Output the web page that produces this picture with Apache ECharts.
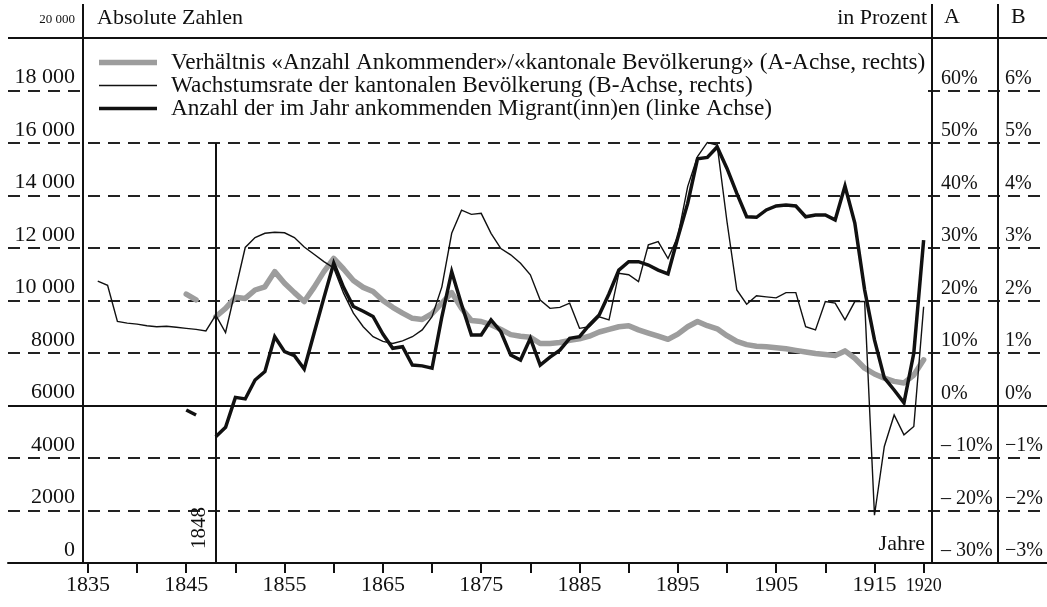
<!DOCTYPE html>
<html>
<head>
<meta charset="utf-8">
<script src="https://cdn.jsdelivr.net/npm/echarts@6/dist/echarts.min.js"></script>
<style>
  html, body { margin: 0; padding: 0; background: #fff; }
  #chart { width: 1047px; height: 607px; }
</style>
</head>
<body>
<div id="chart"></div>
<script>
// ---------------- DATA ----------------
const years = [1835,1836,1837,1838,1839,1840,1841,1842,1843,1844,
  1845,1846,1847,1848,1849,1850,1851,1852,1853,1854,
  1855,1856,1857,1858,1859,1860,1861,1862,1863,1864,
  1865,1866,1867,1868,1869,1870,1871,1872,1873,1874,
  1875,1876,1877,1878,1879,1880,1881,1882,1883,1884,
  1885,1886,1887,1888,1889,1890,1891,1892,1893,1894,
  1895,1896,1897,1898,1899,1900,1901,1902,1903,1904,
  1905,1906,1907,1908,1909,1910,1911,1912,1913,1914,
  1915,1916,1917,1918,1919,1920];

// Anzahl der im Jahr ankommenden Migrant(inn)en (linke Achse)
const migrants = [null,null,null,null,null,null,null,null,null,null,
  5830,5640,null,4810,5170,6310,6250,6970,7290,8620,
  8050,7900,7390,8750,10100,11420,10500,9770,9590,9390,
  8720,8180,8240,7540,7510,7420,9380,11100,9850,8690,
  8690,9260,8810,7920,7730,8560,7540,7840,8110,8560,
  8620,9070,9450,10260,11160,11480,11480,11350,11160,11010,
  12400,13700,15400,15450,15850,15030,14080,13190,13170,13450,
  13600,13640,13600,13190,13260,13260,13070,14360,12950,10400,
  8500,7050,6590,6100,8000,12300];

// Wachstumsrate der kantonalen Bevölkerung (B-Achse, %)
const growthRate = [null,2.37,2.29,1.60,1.57,1.55,1.52,1.50,1.51,1.49,
  1.47,1.45,1.42,1.72,1.39,2.20,3.01,3.20,3.28,3.30,
  3.29,3.20,3.02,2.88,2.74,2.62,2.14,1.76,1.50,1.31,
  1.22,1.18,1.23,1.31,1.44,1.69,2.26,3.28,3.72,3.64,
  3.66,3.28,2.99,2.87,2.71,2.49,2.01,1.85,1.87,1.95,
  1.47,1.50,1.69,1.63,2.52,2.49,2.36,3.06,3.12,2.80,
  3.22,4.17,4.74,5.01,4.96,3.50,2.20,1.93,2.09,2.07,
  2.05,2.15,2.15,1.50,1.44,1.98,1.95,1.63,1.98,1.98,
  -2.09,-0.78,-0.18,-0.56,-0.40,1.88];

// Verhältnis «Anzahl Ankommender»/«kantonale Bevölkerung» (A-Achse, %)
const ratio = [null,null,null,null,null,null,null,null,null,null,
  21.2,20.1,null,16.9,18.5,20.6,20.4,22.0,22.6,25.5,
  23.3,21.5,19.8,22.5,25.5,28.0,26.0,23.8,22.5,21.7,
  20.0,18.7,17.6,16.6,16.4,17.5,19.5,21.5,18.5,16.2,
  16.0,15.4,14.5,13.5,13.2,13.0,11.8,11.8,12.0,12.4,
  12.7,13.2,14.0,14.5,15.0,15.2,14.4,13.8,13.2,12.6,
  13.6,15.0,16.0,15.2,14.6,13.3,12.2,11.6,11.3,11.2,
  11.0,10.8,10.5,10.2,9.9,9.7,9.5,10.4,9.0,7.1,
  6.0,5.2,4.6,4.3,5.8,8.7];

const seriesNames = [
  'Verhältnis «Anzahl Ankommender»/«kantonale Bevölkerung» (A-Achse, rechts)',
  'Wachstumsrate der kantonalen Bevölkerung (B-Achse, rechts)',
  'Anzahl der im Jahr ankommenden Migrant(inn)en (linke Achse)'
];

// tick labels
const leftTicks = [0,2000,4000,6000,8000,10000,12000,14000,16000,18000,20000];
const leftTickLabels = ['0','2000','4000','6000','8000','10 000','12 000','14 000','16 000','18 000','{s|20 000}'];
const aTicks = [-30,-20,-10,0,10,20,30,40,50,60,70];
const aTickLabels = ['– 30%','– 20%','– 10%','0%','10%','20%','30%','40%','50%','60%','{h|A}'];
const bTicks = [-3,-2,-1,0,1,2,3,4,5,6,7];
const bTickLabels = ['−3%','−2%','−1%','0%','1%','2%','3%','4%','5%','6%','{h|B}'];
const xTickYears = [1835,1840,1845,1850,1855,1860,1865,1870,1875,1880,1885,1890,1895,1900,1905,1910,1915,1920];
const xLabelYears = [1835,1845,1855,1865,1875,1885,1895,1905,1915,1920];
const xLabelTexts = ['1835','1845','1855','1865','1875','1885','1895','1905','1915','{s|1920}'];
const eventYear = 1848;

// ---------------- LAYOUT / STYLE ----------------
const FONT = '"Liberation Serif", "DejaVu Serif", serif';
const INK = '#111';
const GRAY = '#9d9d9d';
const PL = 83, PR = 932, PT = 38, PB = 563, SEP = 998;
const W_RATIO = 5.5, W_GROWTH = 1.4, W_MIGR = 3.5;

function pick(ticks, labels) {
  return function (v) {
    for (let i = 0; i < ticks.length; i++) if (Math.abs(ticks[i] - v) < 1e-6) return labels[i];
    return '';
  };
}
const pairs = arr => years.map((y, i) => [y, arr[i]]);
const barIcon = h => 'path://M0,0H58V' + h + 'H0Z';

const chart = echarts.init(document.getElementById('chart'), null, { renderer: 'canvas' });

const option = {
  backgroundColor: '#fff',
  animation: false,
  textStyle: { fontFamily: FONT, color: INK },
  grid: [
    { left: PL, top: PT, width: PR - PL, height: PB - PT, containLabel: false },
    { left: 8, top: PT, right: 0, height: PB - PT, containLabel: false }
  ],
  xAxis: [
    {
      gridIndex: 0, type: 'value', min: 1834.5, max: 1920.85,
      axisLine: { show: false },
      axisTick: { show: true, customValues: xTickYears, length: 10, lineStyle: { color: INK, width: 2 } },
      axisLabel: {
        show: true, customValues: xLabelYears, margin: 11,
        formatter: pick(xLabelYears, xLabelTexts),
        fontFamily: FONT, fontSize: 22, color: INK,
        rich: { s: { fontFamily: FONT, fontSize: 18, color: INK, padding: [3, 0, 0, 0] } }
      },
      splitLine: { show: false }
    },
    {
      gridIndex: 1, type: 'value', min: 0, max: 1,
      axisLine: { show: true, lineStyle: { color: INK, width: 2 } },
      axisTick: { show: false }, axisLabel: { show: false }, splitLine: { show: false }
    }
  ],
  yAxis: [
    {
      gridIndex: 0, type: 'value', min: 0, max: 20000, interval: 2000, position: 'left', z: 10,
      axisLine: { show: true, onZero: false, lineStyle: { color: INK, width: 2 } },
      axisTick: { show: false }, splitLine: { show: false },
      axisLabel: {
        margin: 8, verticalAlign: 'bottom', fontFamily: FONT, fontSize: 22, color: INK,
        padding: [0, 0, 2, 0],
        formatter: pick(leftTicks, leftTickLabels),
        rich: { s: { fontFamily: FONT, fontSize: 13, color: INK, padding: [0, 0, 10, 0] } }
      }
    },
    {
      gridIndex: 0, type: 'value', min: -30, max: 70, interval: 10, position: 'right', z: 10,
      axisLine: { show: true, onZero: false, lineStyle: { color: INK, width: 2 } },
      axisTick: { show: false }, splitLine: { show: false },
      axisLabel: {
        margin: 9, align: 'left', verticalAlign: 'bottom', fontFamily: FONT, fontSize: 20, color: INK,
        padding: [0, 0, 2, 0],
        formatter: pick(aTicks, aTickLabels),
        rich: { h: { fontFamily: FONT, fontSize: 22, color: INK, padding: [0, 0, 8, 3] } }
      }
    },
    {
      gridIndex: 0, type: 'value', min: -3, max: 7, interval: 1, position: 'right', offset: SEP - PR, z: 10,
      axisLine: { show: true, onZero: false, lineStyle: { color: INK, width: 2 } },
      axisTick: { show: false }, splitLine: { show: false },
      axisLabel: {
        margin: 7, align: 'left', verticalAlign: 'bottom', fontFamily: FONT, fontSize: 20, color: INK,
        padding: [0, 0, 2, 0],
        formatter: pick(bTicks, bTickLabels),
        rich: { h: { fontFamily: FONT, fontSize: 22, color: INK, padding: [0, 0, 8, 6] } }
      }
    },
    {
      gridIndex: 1, type: 'value', min: 0, max: 20000, interval: 2000,
      axisLine: { show: false }, axisTick: { show: false }, axisLabel: { show: false },
      splitLine: { show: true, lineStyle: { color: '#222', width: 2, type: [12, 8] } }
    }
  ],
  legend: {
    show: true, orient: 'vertical', left: 85, top: 40,
    padding: [11, 1, 14, 14], backgroundColor: '#fff',
    data: [
      { name: seriesNames[0], icon: barIcon(W_RATIO) },
      { name: seriesNames[1], icon: barIcon(W_GROWTH) },
      { name: seriesNames[2], icon: barIcon(W_MIGR) }
    ],
    itemWidth: 58, itemHeight: 12, itemGap: 0, symbolKeepAspect: true,
    selectedMode: false,
    textStyle: { fontFamily: FONT, fontSize: 23.3, color: INK, lineHeight: 21.5, padding: [0, 0, 0, 9] }
  },
  series: [
    {
      name: 'frame', type: 'line', xAxisIndex: 1, yAxisIndex: 3, data: [], silent: true,
      markLine: {
        silent: true, symbol: 'none', label: { show: false },
        lineStyle: { color: INK, width: 2, type: 'solid' },
        data: [{ yAxis: 20000 }, { yAxis: 6000 }]
      }
    },
    {
      name: seriesNames[0], type: 'line', xAxisIndex: 0, yAxisIndex: 1,
      data: pairs(ratio), showSymbol: false, symbol: 'none', connectNulls: false,
      lineStyle: { color: GRAY, width: W_RATIO, join: 'round', cap: 'round' },
      itemStyle: { color: GRAY }, z: 2
    },
    {
      name: seriesNames[1], type: 'line', xAxisIndex: 0, yAxisIndex: 2,
      data: pairs(growthRate), showSymbol: false, symbol: 'none', connectNulls: false,
      lineStyle: { color: INK, width: W_GROWTH, join: 'miter' },
      itemStyle: { color: INK }, z: 3
    },
    {
      name: seriesNames[2], type: 'line', xAxisIndex: 0, yAxisIndex: 0,
      data: pairs(migrants), showSymbol: false, symbol: 'none', connectNulls: false,
      lineStyle: { color: INK, width: W_MIGR, join: 'miter' },
      itemStyle: { color: INK }, z: 4,
      markLine: {
        silent: true, symbol: 'none',
        lineStyle: { color: INK, width: 2, type: 'solid' },
        label: {
          show: true, formatter: String(eventYear), position: 'insideStartTop',
          fontFamily: FONT, fontSize: 21, color: INK, distance: [14, 6]
        },
        data: [[{ coord: [eventYear, 0] }, { coord: [eventYear, 16000] }]]
      }
    }
  ],
  graphic: [
    { type: 'line', shape: { x1: PL, y1: 4, x2: PL, y2: PT }, style: { stroke: INK, lineWidth: 2 } },
    { type: 'line', shape: { x1: PR, y1: 4, x2: PR, y2: PT }, style: { stroke: INK, lineWidth: 2 } },
    { type: 'line', shape: { x1: SEP, y1: 4, x2: SEP, y2: PT }, style: { stroke: INK, lineWidth: 2 } },
    { type: 'text', left: 97, top: 7, style: { text: 'Absolute Zahlen', font: '22px ' + FONT, fill: INK } },
    { type: 'text', right: 1047 - 927, top: 7, style: { text: 'in Prozent', font: '22px ' + FONT, fill: INK, textAlign: 'right' } },
    { type: 'text', right: 1047 - 925, top: 533, style: { text: 'Jahre', font: '22px ' + FONT, fill: INK, textAlign: 'right' } }
  ]
};
chart.setOption(option);
</script>
</body>
</html>
